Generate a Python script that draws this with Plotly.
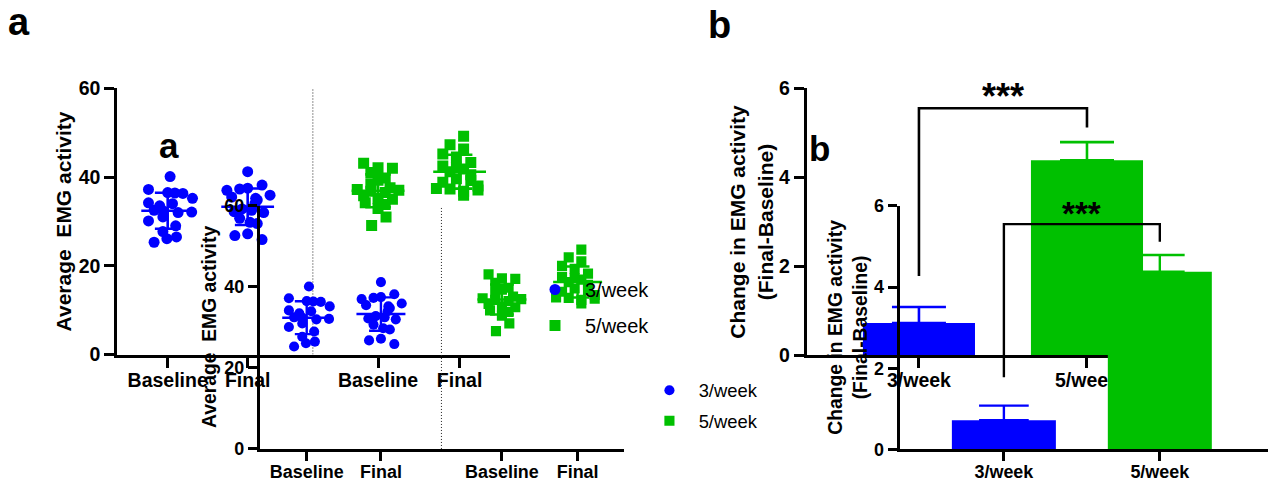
import numpy as np
import plotly.graph_objects as go

# ---------------- data ----------------
categories = ["Baseline", "Final", "Baseline", "Final"]
cat_pos = [0.0, 1.0, 2.63, 3.65]
groups = ["3/week", "5/week"]

base_3 = [40.1, 37.2, 36.5, 36.4, 36.3, 35.2, 34.2, 34.0, 33.5, 32.5,
          32.4, 32.1, 32.0, 31.0, 30.1, 29.0, 27.7, 26.5, 26.1, 25.3]
final_3 = [41.2, 38.2, 37.5, 37.3, 37.0, 35.5, 35.9, 34.0, 35.2, 34.8,
           32.8, 32.0, 32.5, 32.2, 29.8, 30.7, 29.5, 27.2, 26.8, 25.9]
base_5 = [43.1, 42.1, 42.0, 41.0, 39.8, 39.3, 38.5, 37.6, 37.2, 37.0,
          36.8, 36.5, 35.8, 35.2, 35.0, 34.2, 33.8, 32.9, 31.0, 29.1]
final_5 = [49.2, 47.3, 46.3, 45.2, 44.5, 43.3, 42.5, 42.2, 41.8, 41.2,
           40.5, 39.6, 39.2, 38.8, 38.0, 37.4, 37.3, 37.1, 36.8, 35.9]

# horizontal scatter of the dots (category units)
jit_base_3 = [0.03, -0.24, 0.00, 0.09, 0.19, 0.31, -0.24, 0.06, -0.10, -0.17,
              -0.06, 0.30, 0.13, -0.06, -0.24, 0.10, -0.06, 0.11, -0.01, -0.17]
jit_final_3 = [0.00, 0.18, 0.00, -0.10, -0.26, -0.20, 0.28, 0.09, 0.10, 0.12,
               -0.07, 0.20, 0.05, -0.17, 0.03, -0.10, 0.12, 0.00, -0.16, 0.18]
jit_base_5 = [-0.18, 0.00, 0.18, -0.09, 0.09, 0.00, -0.09, 0.15, -0.26, 0.26,
              -0.09, 0.09, -0.18, 0.00, 0.18, -0.16, 0.09, 0.00, 0.10, -0.08]
jit_final_5 = [0.05, -0.12, 0.05, -0.21, -0.04, 0.14, -0.21, -0.04, 0.05, -0.12,
               0.14, -0.04, 0.14, -0.21, 0.23, -0.29, -0.12, 0.23, 0.05, 0.05]

bar_cats = ["3/week", "5/week"]
bar_means = [0.72, 4.38]
bar_sd = [0.36, 0.41]
sig_label = "***"
sig_bracket_y = [1.78, 5.55, 5.55, 5.12]

panel_a_title = "Average\u00a0 EMG activity"
panel_b_title = "Change in EMG activity<br>(Final-Baseline)"

# ---------------- style ----------------
W, H = 1276, 482
BLUE = "#0000FF"
GREEN = "#00C000"
FONT = "Arial, 'Liberation Sans', Helvetica, sans-serif"

# second (overlaid) copy is scaled and shifted
COPIES = [
    dict(sx=1.0, sy=1.0, dx=0.0, dy=0.0, k=1.0, xstand=-4, leggap=7, legx=535),
    dict(sx=0.928, sy=0.913, dx=151.1, dy=125.3, k=0.92, xstand=-5, leggap=3.5, legx=537),
]

fig = go.Figure()
layout = {}
annotations = []

group_data = [
    (base_3, jit_base_3, 0, BLUE, "circle", groups[0]),
    (final_3, jit_final_3, 1, BLUE, "circle", None),
    (base_5, jit_base_5, 2, GREEN, "square", groups[1]),
    (final_5, jit_final_5, 3, GREEN, "square", None),
]


def aname(letter, n):
    return letter if n == 1 else f"{letter}{n}"


for ci, c in enumerate(COPIES):
    X = lambda x, c=c: c["sx"] * x + c["dx"]
    Y = lambda y, c=c: c["sy"] * y + c["dy"]
    fx = lambda x, X=X: X(x) / W
    fy = lambda y, Y=Y: 1 - Y(y) / H
    k = c["k"]
    na, nb = 2 * ci + 1, 2 * ci + 2
    xa, ya, xb, yb = aname("x", na), aname("y", na), aname("x", nb), aname("y", nb)
    leg = "legend" if ci == 0 else "legend2"

    # ---- panel a: dot plot ----
    for vals, jit, gi, color, sym, name in group_data:
        v = np.array(vals)
        fig.add_trace(go.Scatter(
            x=np.array(jit) + cat_pos[gi], y=v, mode="markers",
            marker=dict(color=color, symbol=sym, size=11 * k, line=dict(width=0)),
            name="\u2002" + name if name else "", showlegend=bool(name), legend=leg,
            legendgroup=f"{ci}-{color}", xaxis=xa, yaxis=ya, hoverinfo="skip"))
    for vals, jit, gi, color, sym, name in group_data:
        v = np.array(vals)
        m, s = v.mean(), v.std(ddof=1)
        p = cat_pos[gi]
        fig.add_trace(go.Scatter(
            x=[p - 0.33, p + 0.33, None, p - 0.16, p + 0.16, None, p, p, None, p - 0.16, p + 0.16],
            y=[m, m, None, m + s, m + s, None, m + s, m - s, None, m - s, m - s],
            mode="lines", line=dict(color=color, width=2.6 * k), showlegend=False,
            xaxis=xa, yaxis=ya, hoverinfo="skip"))
    mid = (cat_pos[1] + cat_pos[2]) / 2
    fig.add_trace(go.Scatter(
        x=[mid, mid], y=[0, 60], mode="lines",
        line=dict(color="#222222", width=1, dash="1px,2px"), showlegend=False,
        xaxis=xa, yaxis=ya, hoverinfo="skip"))

    # ---- panel b: bars ----
    for i, (cat, m, s, color) in enumerate(zip(bar_cats, bar_means, bar_sd, [BLUE, GREEN])):
        fig.add_trace(go.Bar(
            x=[i], y=[m], width=0.667, marker=dict(color=color, line=dict(width=0)),
            error_y=dict(type="data", array=[s], arrayminus=[0], symmetric=False,
                         color=color, thickness=2.6 * k, width=27 * k),
            showlegend=False, xaxis=xb, yaxis=yb, hoverinfo="skip"))
    fig.add_trace(go.Scatter(
        x=[0, 0, 1, 1], y=sig_bracket_y, mode="lines",
        line=dict(color="black", width=2.6 * k), showlegend=False,
        xaxis=xb, yaxis=yb, hoverinfo="skip"))

    # ---- axes ----
    common = dict(showline=True, linecolor="black", linewidth=3 * k, ticks="outside",
                  ticklen=10 * k, tickwidth=3 * k, tickcolor="black", showgrid=False,
                  zeroline=False, fixedrange=True, automargin=False,
                  tickfont=dict(family=FONT, size=19.5 * k, color="black", weight="bold"))
    layout["xaxis" + ("" if na == 1 else str(na))] = dict(
        common, domain=[fx(117.3), fx(510)], range=[-0.63, 4.28], anchor=ya,
        tickmode="array", tickvals=cat_pos, ticktext=categories,
        ticklabelstandoff=c["xstand"])
    layout["yaxis" + ("" if na == 1 else str(na))] = dict(
        common, domain=[fy(354.5), fy(88.3)], range=[0, 60], anchor=xa,
        tickmode="array", tickvals=[0, 20, 40, 60])
    layout["xaxis" + str(nb)] = dict(
        common, domain=[fx(806.7), fx(1203.6)], range=[-0.668, 1.694], anchor=yb,
        tickmode="array", tickvals=[0, 1], ticktext=bar_cats,
        ticklabelstandoff=c["xstand"])
    layout["yaxis" + str(nb)] = dict(
        common, domain=[fy(355), fy(88.3)], range=[0, 6], anchor=xb,
        tickmode="array", tickvals=[0, 2, 4, 6])

    # ---- legend ----
    layout[leg] = dict(x=fx(c["legx"]), y=fy(270), xanchor="left", yanchor="top",
                       font=dict(family=FONT, size=20 * k, color="black"),
                       bgcolor="rgba(0,0,0,0)", traceorder="grouped",
                       tracegroupgap=c["leggap"], itemsizing="trace")

    # ---- texts ----
    bold = lambda sz: dict(family=FONT, size=sz * k, color="black", weight="bold")
    annotations += [
        dict(text="a", x=fx(19), y=fy(22), xref="paper", yref="paper",
             showarrow=False, xanchor="center", yanchor="middle", font=bold(38)),
        dict(text="b", x=fx(720), y=fy(25), xref="paper", yref="paper",
             showarrow=False, xanchor="center", yanchor="middle", font=bold(38)),
        dict(text=panel_a_title, x=fx(63), y=fy(221.4), xref="paper", yref="paper",
             textangle=-90, showarrow=False, xanchor="center", yanchor="middle",
             font=bold(21)),
        dict(text=panel_b_title, x=fx(751), y=fy(221.7), xref="paper", yref="paper",
             textangle=-90, showarrow=False, xanchor="center", yanchor="middle",
             font=bold(21)),
        dict(text=sig_label, x=0.5, y=sig_bracket_y[1], xref=xb, yref=yb,
             showarrow=False, xanchor="center", yanchor="bottom", yshift=-11 * k,
             font=bold(36)),
    ]

fig.update_layout(
    width=W, height=H,
    margin=dict(l=0, r=0, t=0, b=0, pad=0, autoexpand=False),
    paper_bgcolor="white", plot_bgcolor="rgba(0,0,0,0)",
    barmode="overlay", annotations=annotations, **layout)

fig.write_html("out.html", config={"displayModeBar": False},
               post_script="document.body.style.margin='0';"
                           "document.body.style.overflow='hidden';")
